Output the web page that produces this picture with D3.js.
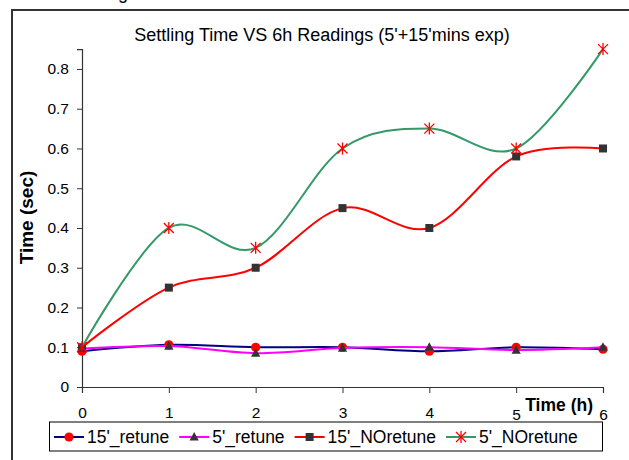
<!DOCTYPE html>
<html lang="en">
<head>
  <meta charset="UTF-8">
  <title>Settling Time VS 6h Readings</title>
  <script src="https://d3js.org/d3.v7.min.js"></script>
  <style>
    body { margin: 0; background: #fff; }
    text { font-family: "Liberation Sans", Arial, sans-serif; }
  </style>
</head>
<body>
<script>
// data
const hours = [0, 1, 2, 3, 4, 5, 6];
const retune15 = [0.09, 0.106, 0.1, 0.1, 0.09, 0.1, 0.095];
const retune5 = [0.097, 0.103, 0.085, 0.098, 0.1, 0.093, 0.1];
const noRetune15 = [0.1, 0.25, 0.3, 0.45, 0.4, 0.58, 0.6];
const noRetune5 = [0.1, 0.4, 0.35, 0.6, 0.65, 0.6, 0.85];
const yTicks = [0, 0.1, 0.2, 0.3, 0.4, 0.5, 0.6, 0.7, 0.8];

const series = [
  { name: "15'_retune", values: retune15, line: "#000080", marker: "circle", mcolor: "#ff0000" },
  { name: "5'_retune", values: retune5, line: "#ff00ff", marker: "triangle", mcolor: "#333333" },
  { name: "15'_NOretune", values: noRetune15, line: "#ff0000", marker: "square", mcolor: "#333333" },
  { name: "5'_NOretune", values: noRetune5, line: "#339966", marker: "star", mcolor: "#ff0000" }
];

const width = 629, height = 460;

const svg = d3.select("body").append("svg")
    .attr("width", width)
    .attr("height", height);

svg.append("rect")
    .attr("width", width).attr("height", height)
    .attr("fill", "#fff");

// bit of caption from above, cut off
svg.append("text")
    .attr("x", 118).attr("y", -1)
    .attr("font-size", 18)
    .text("g");

// chart frame (runs off the right and bottom)
svg.append("rect")
    .attr("x", 12).attr("y", 10)
    .attr("width", 640).attr("height", 480)
    .attr("fill", "none")
    .attr("stroke", "#333")
    .attr("stroke-width", 2);

const x = d3.scaleLinear().domain([0, 6]).range([82, 603]);
const y = d3.scaleLinear().domain([0, 0.85]).range([387, 49.1]);

svg.append("text")
    .attr("x", 322).attr("y", 41)
    .attr("text-anchor", "middle")
    .attr("font-size", 18)
    .text("Settling Time VS 6h Readings (5'+15'mins exp)");

// axes
const yAxis = svg.append("g")
    .attr("transform", `translate(${x(0)},0)`)
    .call(d3.axisLeft(y).tickValues(yTicks).tickSize(5).tickPadding(8)
      .tickFormat(d => d === 0 ? "0" : d3.format(".1f")(d)));

const xAxis = svg.append("g")
    .attr("transform", `translate(0,${y(0)})`)
    .call(d3.axisBottom(x).tickValues(hours).tickSize(6).tickPadding(14).tickFormat(d3.format("d")));

for (const ax of [xAxis, yAxis]) {
  ax.select(".domain").attr("stroke", "#333").attr("stroke-width", 1.2);
  ax.selectAll(".tick line").attr("stroke", "#333");
  ax.selectAll(".tick text")
      .attr("fill", "#000")
      .attr("font-size", 15.5)
      .attr("font-family", "Liberation Sans, Arial, sans-serif");
}
xAxis.selectAll(".tick text").filter(d => d >= 5).attr("dy", "0.82em");

svg.append("text")
    .attr("x", 593).attr("y", 410.5)
    .attr("text-anchor", "end")
    .attr("font-size", 17.5)
    .attr("font-weight", "bold")
    .text("Time (h)");

svg.append("text")
    .attr("transform", "translate(33,217.5) rotate(-90)")
    .attr("text-anchor", "middle")
    .attr("font-size", 19)
    .attr("font-weight", "bold")
    .text("Time (sec)");

// markers
function drawMarker(g, type, color, cx, cy) {
  if (type === "circle") {
    g.append("circle").attr("cx", cx).attr("cy", cy).attr("r", 4.6).attr("fill", color);
  } else if (type === "triangle") {
    g.append("path")
        .attr("d", `M${cx},${cy - 5}L${cx + 4.6},${cy + 3.6}L${cx - 4.6},${cy + 3.6}Z`)
        .attr("fill", color);
  } else if (type === "square") {
    g.append("rect").attr("x", cx - 4).attr("y", cy - 4).attr("width", 8).attr("height", 8)
        .attr("fill", color);
  } else {
    const r = 5;
    g.append("path")
        .attr("d", `M${cx - r},${cy - r}L${cx + r},${cy + r}M${cx - r},${cy + r}L${cx + r},${cy - r}M${cx},${cy - r - 1}L${cx},${cy + r + 1}`)
        .attr("stroke", color)
        .attr("stroke-width", 1.3)
        .attr("fill", "none");
  }
}

const line = d3.line()
    .x((d, i) => x(hours[i]))
    .y(d => y(d))
    .curve(d3.curveCardinal.tension(0));

for (const s of series) {
  const g = svg.append("g");
  g.append("path")
      .attr("d", line(s.values))
      .attr("fill", "none")
      .attr("stroke", s.line)
      .attr("stroke-width", 2);
  s.values.forEach((v, i) => drawMarker(g, s.marker, s.mcolor, x(hours[i]), y(v)));
}

// legend
const legend = svg.append("g");
legend.append("rect")
    .attr("x", 49.5).attr("y", 422)
    .attr("width", 553).attr("height", 29)
    .attr("fill", "#fff")
    .attr("stroke", "#000")
    .attr("stroke-width", 1);

let lx = 54;
const ly = 437;
for (const s of series) {
  legend.append("line")
      .attr("x1", lx).attr("x2", lx + 30)
      .attr("y1", ly).attr("y2", ly)
      .attr("stroke", s.line)
      .attr("stroke-width", 2);
  drawMarker(legend, s.marker, s.mcolor, lx + 15, ly);
  const t = legend.append("text")
      .attr("x", lx + 33).attr("y", ly + 6)
      .attr("font-size", 17.5)
      .text(s.name);
  lx += 33 + t.node().getComputedTextLength() + 10;
}
</script>
</body>
</html>
